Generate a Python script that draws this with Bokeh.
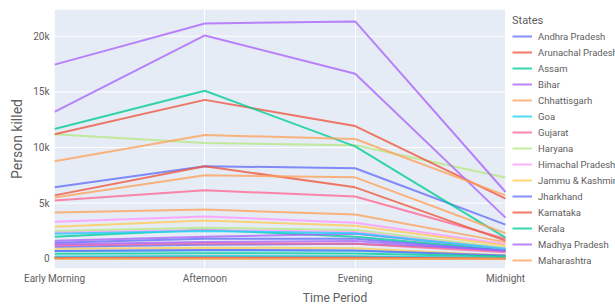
from bokeh.plotting import figure
from bokeh.models import Legend, LegendItem, FixedTicker, Range1d
from bokeh.embed import file_html
from bokeh.resources import INLINE

periods = ["Early Morning", "Afternoon", "Evening", "Midnight"]

states = [
    "Andhra Pradesh", "Arunachal Pradesh", "Assam", "Bihar", "Chhattisgarh",
    "Goa", "Gujarat", "Haryana", "Himachal Pradesh", "Jammu & Kashmir",
    "Jharkhand", "Karnataka", "Kerala", "Madhya Pradesh", "Maharashtra",
    "Manipur", "Meghalaya", "Mizoram", "Nagaland", "Odisha",
    "Punjab", "Rajasthan", "Sikkim", "Tamil Nadu", "Telangana",
    "Tripura", "Uttar Pradesh", "Uttarakhand", "West Bengal", "A & N Islands",
    "Chandigarh", "D & N Haveli", "Daman & Diu", "Delhi", "Lakshadweep",
    "Puducherry",
]

early_morning = [6420, 150, 1990, 1630, 4160, 700, 5240, 11200, 3340, 900,
                 1450, 11200, 11660, 13200, 8770, 100, 120, 60, 50, 2890,
                 1080, 5700, 50, 17450, 5500, 200, 1200, 2500, 2350, 30,
                 700, 80, 450, 1300, 5, 2250]
afternoon = [8320, 200, 2620, 1990, 4430, 750, 6150, 10400, 3800, 1000,
             1810, 14280, 15100, 20070, 11120, 120, 150, 70, 60, 3440,
             1270, 8320, 60, 21150, 7500, 250, 1400, 2800, 2600, 40,
             800, 100, 500, 1500, 5, 2500]
evening = [8140, 180, 1990, 2260, 3980, 720, 5600, 10200, 3250, 950,
           1810, 11930, 10100, 16630, 10760, 110, 130, 60, 50, 2980,
           1350, 6420, 60, 21330, 7320, 230, 1350, 2600, 2400, 35,
           750, 90, 480, 1600, 5, 2300]
midnight = [3070, 60, 800, 900, 1500, 300, 1800, 7300, 1300, 300,
            700, 5400, 1900, 3700, 5700, 40, 50, 20, 20, 1200,
            800, 1630, 20, 6000, 2300, 80, 600, 1000, 900, 10,
            300, 30, 200, 700, 2, 900]

y_ticks = [0, 5000, 10000, 15000, 20000]
y_tick_labels = ["0", "5k", "10k", "15k", "20k"]

palette = ["#636EFA", "#EF553B", "#00CC96", "#AB63FA", "#FFA15A",
           "#19D3F3", "#FF6692", "#B6E880", "#FF97FF", "#FECB52"]

FONT = "Roboto"
TXT = "#606060"
PLOT_BG = "#E5ECF6"

W, H = 615, 308
LEFT, TOP, BOTTOM = 54, 9, 40
PLOT_RIGHT = 505  # where the category span ends; legend lives to its right

n_last = len(periods) - 1
Y_LO, Y_HI = -870, 22400
x_hi = n_last * (W - LEFT) / (PLOT_RIGHT - LEFT)

p = figure(width=W, height=H, output_backend="svg", toolbar_location=None,
           x_range=Range1d(0, x_hi), y_range=Range1d(Y_LO, Y_HI),
           min_border_left=LEFT, min_border_right=0, min_border_top=TOP,
           min_border_bottom=BOTTOM)
p.background_fill_color = "white"
p.border_fill_color = "white"
p.outline_line_color = None

# plot-area background, horizontal grid lines and zero line over the category span
p.quad(left=0, right=n_last, bottom=Y_LO, top=Y_HI, fill_color=PLOT_BG,
       line_color=None, level="image")
p.segment(x0=[0] * len(y_ticks), x1=[n_last] * len(y_ticks), y0=y_ticks,
          y1=y_ticks, line_color="white", line_width=1, level="underlay")
p.segment(x0=[0], x1=[n_last], y0=[0], y1=[0], line_color="white",
          line_width=2, level="underlay")

x_idx = list(range(len(periods)))
renderers = []
for i, s in enumerate(states):
    ys = [early_morning[i], afternoon[i], evening[i], midnight[i]]
    r = p.line(x_idx, ys, line_color=palette[i % len(palette)], line_width=2,
               line_alpha=0.78)
    renderers.append(r)

p.xaxis.ticker = FixedTicker(ticks=x_idx)
p.xaxis.major_label_overrides = {i: lab for i, lab in enumerate(periods)}
p.xaxis.bounds = (0, n_last)
p.yaxis.ticker = FixedTicker(ticks=y_ticks)
p.yaxis.major_label_overrides = {t: l for t, l in zip(y_ticks, y_tick_labels)}

for ax in (p.xaxis[0], p.yaxis[0]):
    ax.axis_line_color = None
    ax.major_tick_line_color = None
    ax.minor_tick_line_color = None
    ax.major_tick_out = 0
    ax.major_tick_in = 0
    ax.minor_tick_out = 0
    ax.minor_tick_in = 0
    ax.major_label_text_font = FONT
    ax.major_label_text_font_size = "10px"
    ax.major_label_text_color = TXT
    ax.axis_label_text_font = FONT
    ax.axis_label_text_font_style = "normal"
    ax.axis_label_text_color = TXT

p.xaxis.axis_label = "Time Period"
p.xaxis.axis_label_text_font_size = "12px"
p.yaxis.axis_label = "Person killed"
p.yaxis.axis_label_text_font_size = "14px"
p.xaxis.major_label_standoff = 4
p.xaxis.axis_label_standoff = 4
p.yaxis.major_label_standoff = 5
p.yaxis.axis_label_standoff = 5

p.xgrid.ticker = FixedTicker(ticks=x_idx)
p.xgrid.grid_line_color = "white"
p.xgrid.grid_line_width = 1
p.ygrid.grid_line_color = None

items = [LegendItem(label=states[i], renderers=[renderers[i]]) for i in range(15)]
legend = Legend(items=items, location=(512 - LEFT, 0), title="States",
                title_text_font=FONT, title_text_font_size="11px",
                title_text_font_style="normal", title_text_color=TXT,
                title_standoff=1,
                label_text_font=FONT, label_text_font_size="9.5px",
                label_text_color=TXT, glyph_width=20, glyph_height=16,
                label_height=16, label_standoff=6, spacing=0, padding=0,
                margin=0, border_line_color=None, background_fill_alpha=0)
p.add_layout(legend)

open("out.html", "w").write(file_html(p, INLINE))
